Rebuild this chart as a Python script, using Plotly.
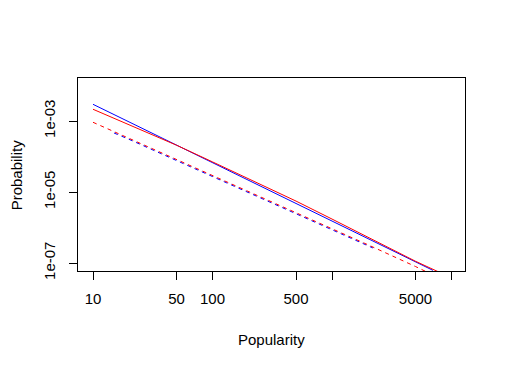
import plotly.graph_objects as go

# values (log-log)
x_blue_solid = [10, 20, 50, 100, 200, 500, 1000, 2000, 5000, 7000]
y_blue_solid = [2.95e-3, 9.4e-4, 2.09e-4, 6.7e-5, 2.14e-5, 4.74e-6, 1.55e-6, 4.93e-7, 1.09e-7, 6.2e-8]

x_red_solid = [10, 20, 50, 100, 200, 500, 1000, 2000, 5000, 8000]
y_red_solid = [2.14e-3, 7.96e-4, 2.08e-4, 7.05e-5, 2.40e-5, 5.55e-6, 1.73e-6, 5.22e-7, 1.12e-7, 5.4e-8]

x_blue_dash = [15, 20, 50, 100, 200, 500, 1000, 2200]
y_blue_dash = [4.59e-4, 3.05e-4, 7.7e-5, 2.74e-5, 9.7e-6, 2.47e-6, 8.8e-7, 2.65e-7]

x_red_dash = [10, 20, 50, 100, 200, 500, 1000, 2000, 5000, 6500]
y_red_dash = [9.2e-4, 3.26e-4, 8.2e-5, 2.92e-5, 1.03e-5, 2.63e-6, 9.4e-7, 3.26e-7, 7.96e-8, 5.2e-8]

x_tickvals = [10, 50, 100, 500, 1000, 5000, 10000]
x_ticktext = ["10", "50", "100", "500", "", "5000", ""]
y_tickvals = [1e-3, 1e-5, 1e-7]
y_ticktext = ["1e-03", "1e-05", "1e-07"]

FONT = "Liberation Sans, Arial, sans-serif"

fig = go.Figure()

series = [
    (x_blue_solid, y_blue_solid, "#0000FF", "solid"),
    (x_red_solid, y_red_solid, "#FF0000", "solid"),
    (x_blue_dash, y_blue_dash, "#0000FF", "4px,4px"),
    (x_red_dash, y_red_dash, "#FF0000", "4px,4px"),
]
for xs, ys, color, dash in series:
    fig.add_trace(go.Scatter(
        x=xs, y=ys, mode="lines",
        line=dict(color=color, width=1, dash=dash),
        showlegend=False, hoverinfo="skip",
    ))

axis_common = dict(
    type="log",
    showgrid=False, zeroline=False,
    showline=True, mirror=True, linecolor="black", linewidth=1,
    ticks="outside", ticklen=8, tickcolor="black", tickwidth=1,
    tickfont=dict(family=FONT, size=15, color="black"),
)

fig.update_xaxes(
    range=[0.8745, 4.113],
    tickmode="array", tickvals=x_tickvals, ticktext=x_ticktext,
    ticklabelstandoff=6,
    **axis_common,
)
fig.update_yaxes(
    range=[-7.225, -1.789],
    tickmode="array", tickvals=y_tickvals, ticktext=y_ticktext,
    tickangle=-90,
    ticklabelstandoff=8,
    **axis_common,
)

fig.add_annotation(
    text="Popularity", xref="paper", yref="paper", x=0.5, y=-0.3575,
    showarrow=False, xanchor="center", yanchor="middle",
    font=dict(family=FONT, size=15, color="black"),
)
fig.add_annotation(
    text="Probability", xref="paper", yref="paper", x=-0.158, y=0.5,
    showarrow=False, xanchor="center", yanchor="middle", textangle=-90,
    font=dict(family=FONT, size=15, color="black"),
)

# page body has an 8px margin, so the figure is sized to fit inside it
fig.update_layout(
    width=490, height=353,
    margin=dict(l=70, r=33, t=70, b=90),
    paper_bgcolor="white", plot_bgcolor="white",
    showlegend=False,
)

fig.write_html("out.html")
